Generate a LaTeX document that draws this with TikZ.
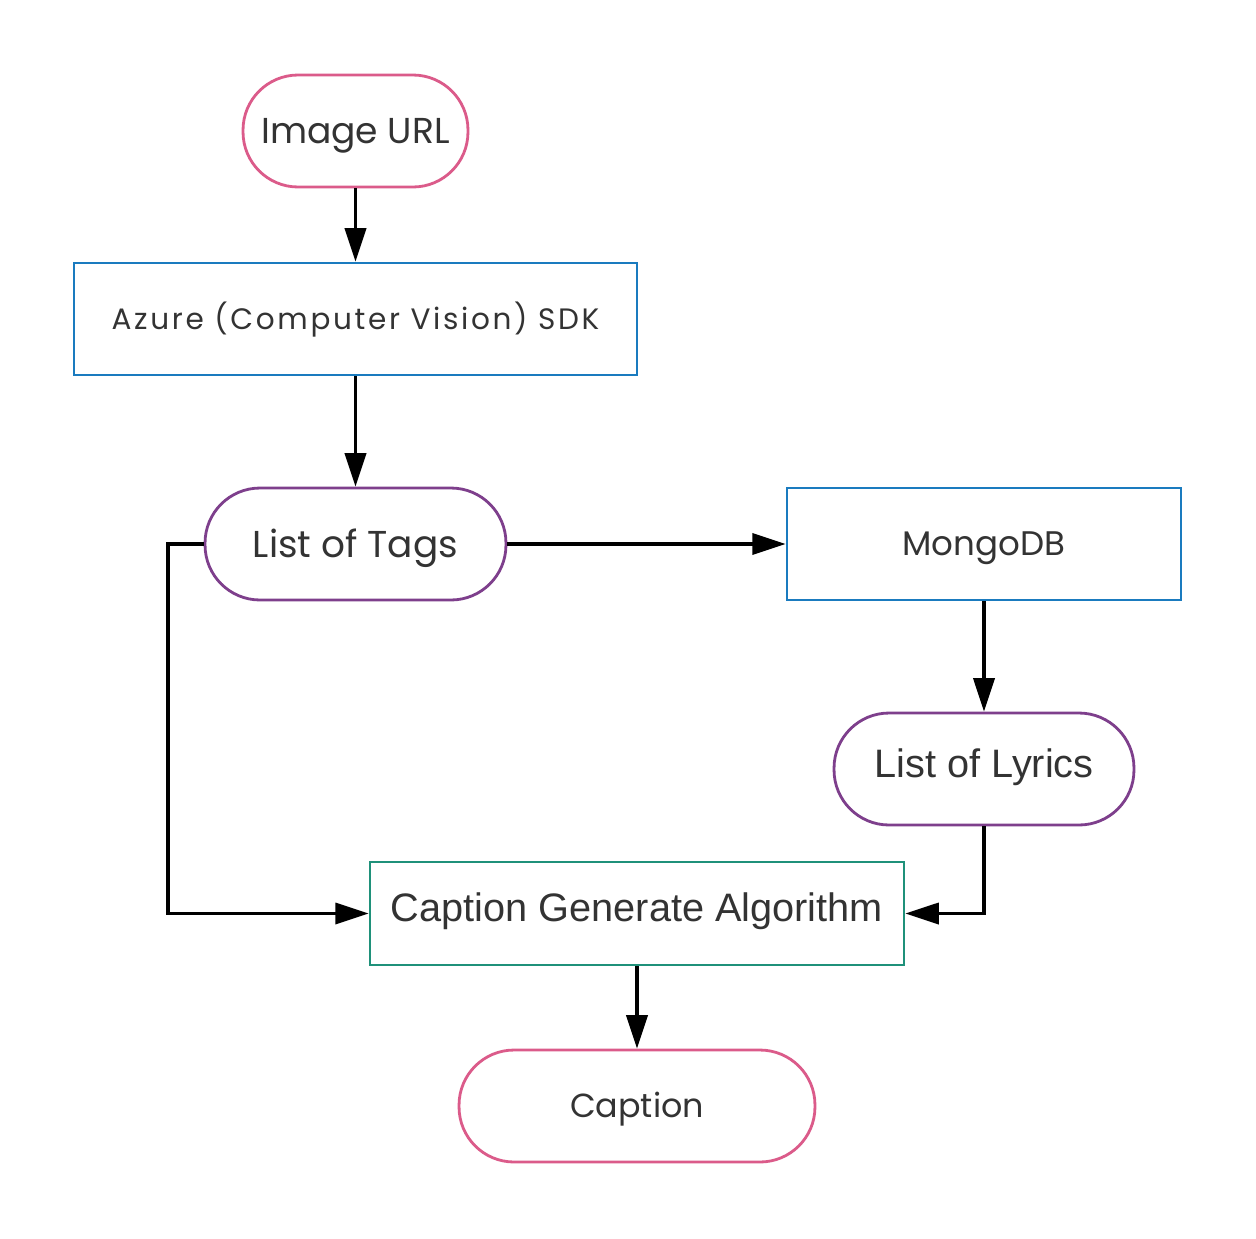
\documentclass[tikz,border=0pt]{standalone}
\usepackage{fontspec}
\setmainfont{Liberation Sans}
\newfontfamily\geofont{Poppins}
\newfontfamily\geowide{Poppins}[LetterSpace=9]
\usetikzlibrary{arrows.meta}
\definecolor{cpink}{HTML}{DB5B8A}
\definecolor{cblue}{HTML}{1A7BBF}
\definecolor{cpurple}{HTML}{7E3F8C}
\definecolor{cteal}{HTML}{1F917A}
\definecolor{ctext}{HTML}{333333}
\begin{document}
\begin{tikzpicture}[x=0.02cm,y=-0.02cm,
  box/.style={draw,line width=1.6pt,rectangle,inner sep=0pt,text=ctext},
  stadium/.style={box,rounded corners=1.1cm},
  conn/.style={line width=1.9pt,-{Triangle[length=19pt,width=12pt]}},
  geo/.style={font=\geofont\fontsize{#1}{#1}\selectfont,text height={0.7*#1},text depth=0pt},
  geow/.style={font=\geowide\fontsize{#1}{#1}\selectfont,text height={0.7*#1},text depth=0pt},
  sans/.style={font=\fontsize{22.6pt}{22.6pt}\selectfont,text height={0.72*22.6pt},text depth={0.3*22.6pt}}]
\useasboundingbox (0,0) rectangle (1256,1238);
\node[stadium,draw=cpink,minimum width=4.5cm,minimum height=2.24cm,geo=20.5pt] (url) at (355.5,131) {Image URL};
\node[box,draw=cblue,minimum width=11.26cm,minimum height=2.24cm,geow=16.8pt] (azure) at (355.5,319) {Azure (Computer Vision) SDK};
\node[stadium,draw=cpurple,minimum width=6.02cm,minimum height=2.24cm,geo=21.3pt] (tags) at (355.5,544) {List of Tags};
\node[box,draw=cblue,minimum width=7.88cm,minimum height=2.24cm,geo=19.4pt] (mongo) at (984,544) {MongoDB};
\node[stadium,draw=cpurple,minimum width=6cm,minimum height=2.24cm,sans] (lyrics) at (984,769) {List of Lyrics};
\node[box,draw=cteal,minimum width=10.68cm,minimum height=2.06cm,sans] (algo) at (637,913.5) {Caption Generate Algorithm};
\node[stadium,draw=cpink,minimum width=7.12cm,minimum height=2.24cm,geo=19pt] (cap) at (637,1106) {Caption};
\coordinate (lc) at (168,544);
\draw[conn] (url) -- (azure);
\draw[conn] (azure) -- (tags);
\draw[conn] (tags) -- (mongo);
\draw[conn] (mongo) -- (lyrics);
\draw[conn] (tags.west) -- (lc) |- (algo.west);
\draw[conn] (lyrics.south) |- (algo.east);
\draw[conn] (algo) -- (cap);
\end{tikzpicture}
\end{document}
